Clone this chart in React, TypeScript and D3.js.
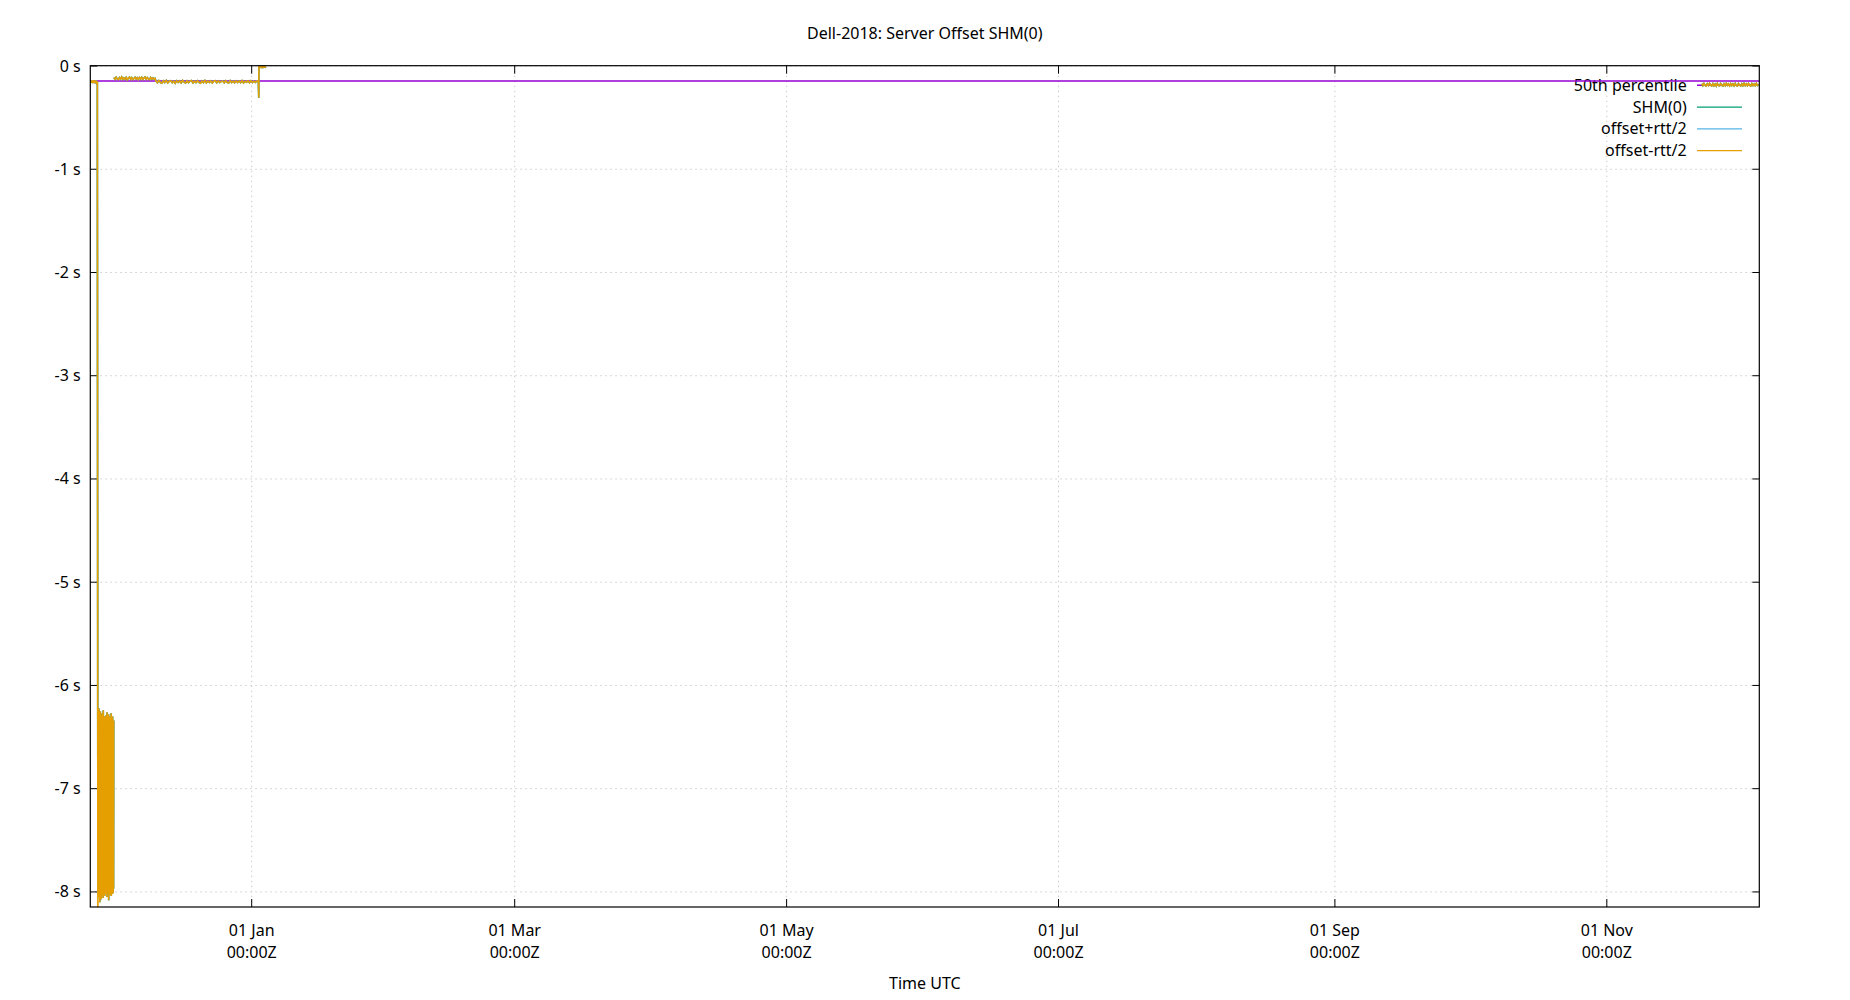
import React from "react";
import * as d3 from "d3";

// ---- data ----
const chartTitle = "Dell-2018: Server Offset SHM(0)";
const xAxisTitle = "Time UTC";
const domainStart = "2018-11-25T19:00:00Z";
const domainEnd = "2019-12-05T05:00:00Z";
const yDomain = [-8.146, 0.003];
const yTickValues = [0, -1, -2, -3, -4, -5, -6, -7, -8];
const percentile50 = -0.146;

const legendLabels = ["50th percentile", "SHM(0)", "offset+rtt/2", "offset-rtt/2"];
const seriesColors = ["#9400d3", "#009e73", "#56b4e9", "#e69f00"];

// segment A: start, step (hours), values (s)
const segAStart = "2018-11-25T19:00:00Z";
const segAStep = 2;
const segAValues = [-0.148, -0.160, -0.138, -0.163, -0.150, -0.140, -0.165, -0.143, -0.158, -0.136,
  -0.161, -0.145, -0.166, -0.139, -0.157, -0.162, -0.141, -0.156, -0.164, -0.150];

// single sample where offset-rtt/2 plunges off-scale
const minusSpikeTime = "2018-11-27T12:00:00Z";
const minusSpikeValue = -8.6;

// noisy block
const blockStart = "2018-11-27T11:00:00Z";
const blockStep = 1;
const blockValues = [-6.32, -7.95, -6.41, -8.02, -6.28, -7.88, -6.22, -8.05, -6.38, -7.92, -6.30, -8.10,
  -6.45, -7.97, -6.25, -8.01, -6.36, -7.90, -6.29, -8.07, -6.40, -7.94, -6.33, -7.99, -6.27, -8.03,
  -6.37, -7.91, -6.31, -8.06, -6.24, -7.96, -6.39, -8.00, -6.34, -7.93, -6.30, -8.04, -6.42, -7.89,
  -6.35, -7.98, -6.38, -7.94, -6.29, -8.02, -6.36, -7.91, -6.33, -8.05, -6.26, -7.97, -6.41, -7.90,
  -6.31, -8.01, -6.37, -7.95, -6.28, -8.08, -6.34, -7.92, -6.39, -7.99, -6.30, -8.03, -6.36, -7.93,
  -6.32, -8.00, -6.40, -7.96, -6.27, -8.04, -6.35, -7.91, -6.33, -7.98, -6.38, -8.02, -6.30, -7.94,
  -6.36, -8.01, -6.42, -7.97, -6.34];

const segB1Start = "2018-12-01T02:00:00Z";
const segB1Step = 6;
const segB1Values = [-0.112, -0.128, -0.109, -0.125, -0.131, -0.113, -0.126, -0.107, -0.129, -0.115,
  -0.127, -0.110, -0.132, -0.118, -0.108, -0.128, -0.113, -0.130, -0.121, -0.109, -0.127, -0.114,
  -0.131, -0.111, -0.126, -0.110, -0.129, -0.116, -0.107, -0.128, -0.112, -0.125, -0.130, -0.111,
  -0.127, -0.115, -0.126, -0.120];

const segB2Start = "2018-12-10T12:00:00Z";
const segB2Step = 8;
const segB2Values = [-0.145, -0.162, -0.141, -0.158, -0.166, -0.144, -0.160, -0.139, -0.163, -0.147,
  -0.142, -0.161, -0.148, -0.167, -0.143, -0.159, -0.145, -0.163, -0.140, -0.157, -0.165, -0.144,
  -0.160, -0.146, -0.141, -0.164, -0.147, -0.161, -0.143, -0.158, -0.166, -0.145, -0.160, -0.140,
  -0.163, -0.146, -0.159, -0.144, -0.164, -0.148, -0.142, -0.161, -0.145, -0.160, -0.149, -0.146,
  -0.162, -0.143, -0.158, -0.165, -0.141, -0.160, -0.147, -0.163, -0.144, -0.159, -0.146, -0.161,
  -0.142, -0.164, -0.148, -0.157, -0.145, -0.162, -0.143, -0.160, -0.147, -0.158, -0.144, -0.152];

const spikeTimes = ["2019-01-02T14:00:00Z", "2019-01-02T15:00:00Z"];
const spikeValues = [-0.307, -0.004];

const segCStart = "2019-01-02T16:00:00Z";
const segCStep = 4;
const segCValues = [-0.004, -0.013, -0.002, -0.012, -0.005, -0.014, -0.003, -0.011, -0.013, -0.006];

const segDStart = "2019-11-22T07:00:00Z";
const segDStep = 6;
const segDValues = [-0.172, -0.190, -0.170, -0.188, -0.193, -0.173, -0.189, -0.168, -0.186, -0.192,
  -0.171, -0.190, -0.174, -0.194, -0.169, -0.187, -0.191, -0.170, -0.188, -0.193, -0.172, -0.189,
  -0.168, -0.187, -0.174, -0.192, -0.171, -0.189, -0.173, -0.191, -0.169, -0.188, -0.193, -0.170,
  -0.186, -0.192, -0.172, -0.190, -0.168, -0.189, -0.174, -0.191, -0.170, -0.187, -0.193, -0.171,
  -0.189, -0.173, -0.190, -0.169, -0.188, -0.180];

type Pt = { t: Date; v: number | null };

function seg(start: string, stepH: number, values: number[]): Pt[] {
  const s = new Date(start);
  return values.map((v, i) => ({ t: d3.utcHour.offset(s, i * stepH), v }));
}
const brk = (t: string): Pt => ({ t: new Date(t), v: null });

function buildSeries(withMinusSpike: boolean): Pt[] {
  const a = seg(segAStart, segAStep, segAValues);
  const spike = withMinusSpike ? [{ t: new Date(minusSpikeTime), v: minusSpikeValue }] : [];
  return [
    ...a,
    ...seg(blockStart, blockStep, blockValues.slice(0, 1)),
    ...spike,
    ...seg(blockStart, blockStep, blockValues).slice(1),
    brk("2018-12-01T01:00:00Z"),
    ...seg(segB1Start, segB1Step, segB1Values),
    ...seg(segB2Start, segB2Step, segB2Values),
    ...spikeTimes.map((t, i) => ({ t: new Date(t), v: spikeValues[i] })),
    ...seg(segCStart, segCStep, segCValues),
    brk("2019-06-01T00:00:00Z"),
    ...seg(segDStart, segDStep, segDValues),
  ];
}

// ---- layout ----
const W = 1850, H = 1000;
const L = 90.3, R = 1759.3, T = 65.7, B = 907;
const FONT = "'Noto Sans', sans-serif";

export default function App() {
  const x = d3.scaleUtc().domain([new Date(domainStart), new Date(domainEnd)]).range([L, R]);
  const y = d3.scaleLinear().domain(yDomain).range([B, T]);
  const xTicks = x.ticks(d3.utcMonth.every(2)!);
  const fmtDay = d3.utcFormat("%d %b");

  const line = d3.line<Pt>().defined(d => d.v !== null).x(d => x(d.t)).y(d => y(d.v as number));

  const shm = buildSeries(false);
  const minus = buildSeries(true);

  const legendY = (i: number) => 85.3 + i * 21.8;
  const lx0 = 1697, lx1 = 1742;

  return (
    <svg width={W} height={H} style={{ position: "absolute", left: 0, top: 0, display: "block" }}
      fontFamily={FONT} fontSize={16}>
      <rect x={0} y={0} width={W} height={H} fill="#fff" />
      <defs>
        <clipPath id="plotclip"><rect x={L} y={T} width={R - L} height={B - T} /></clipPath>
      </defs>
      {/* grid */}
      {yTickValues.map(v => (
        <line key={"gy" + v} x1={L} x2={R} y1={y(v)} y2={y(v)} stroke="#cccccc" strokeWidth={1} strokeDasharray="1.5,3.5" />
      ))}
      {xTicks.map(t => (
        <line key={"gx" + +t} x1={x(t)} x2={x(t)} y1={T} y2={B} stroke="#cccccc" strokeWidth={1} strokeDasharray="1.5,3.5" />
      ))}
      {/* ticks */}
      {yTickValues.map(v => (
        <g key={"ty" + v}>
          <line x1={L} x2={L + 7} y1={y(v)} y2={y(v)} stroke="#000" />
          <line x1={R} x2={R - 7} y1={y(v)} y2={y(v)} stroke="#000" />
          <text x={80.7} y={y(v) + 5.5} textAnchor="end" fill="#000">{`${v} s`}</text>
        </g>
      ))}
      {xTicks.map(t => (
        <g key={"tx" + +t}>
          <line x1={x(t)} x2={x(t)} y1={B} y2={B - 8} stroke="#000" />
          <line x1={x(t)} x2={x(t)} y1={T} y2={T + 8} stroke="#000" />
          <text x={x(t)} y={936} textAnchor="middle" fill="#000">{fmtDay(t)}</text>
          <text x={x(t)} y={957.5} textAnchor="middle" fill="#000">00:00Z</text>
        </g>
      ))}
      {/* legend text */}
      {legendLabels.map((s, i) => (
        <text key={s} x={1686.7} y={legendY(i) + 5.5} textAnchor="end" fill="#000">{s}</text>
      ))}
      {/* 50th percentile */}
      <line x1={lx0} x2={lx1} y1={legendY(0)} y2={legendY(0)} stroke={seriesColors[0]} strokeWidth={1.5} />
      <line x1={L} x2={R} y1={y(percentile50)} y2={y(percentile50)} stroke={seriesColors[0]} strokeWidth={1.5} clipPath="url(#plotclip)" />
      {/* SHM(0) */}
      <line x1={lx0} x2={lx1} y1={legendY(1)} y2={legendY(1)} stroke={seriesColors[1]} strokeWidth={1.2} />
      <path d={line(shm) || ""} fill="none" stroke={seriesColors[1]} strokeWidth={1.6} clipPath="url(#plotclip)" />
      {/* offset+rtt/2 */}
      <line x1={lx0} x2={lx1} y1={legendY(2)} y2={legendY(2)} stroke={seriesColors[2]} strokeWidth={1.2} />
      <path d={line(shm) || ""} fill="none" stroke={seriesColors[2]} strokeWidth={1.4} clipPath="url(#plotclip)" />
      {/* offset-rtt/2 */}
      <line x1={lx0} x2={lx1} y1={legendY(3)} y2={legendY(3)} stroke={seriesColors[3]} strokeWidth={1.2} />
      <path d={line(minus) || ""} fill="none" stroke={seriesColors[3]} strokeWidth={1.6} clipPath="url(#plotclip)" />
      {/* border */}
      <rect x={L} y={T} width={R - L} height={B - T} fill="none" stroke="#000" strokeWidth={1.2} />
      {/* titles */}
      <text x={(L + R) / 2} y={39} textAnchor="middle" fill="#000">{chartTitle}</text>
      <text x={(L + R) / 2} y={989} textAnchor="middle" fill="#000">{xAxisTitle}</text>
    </svg>
  );
}
